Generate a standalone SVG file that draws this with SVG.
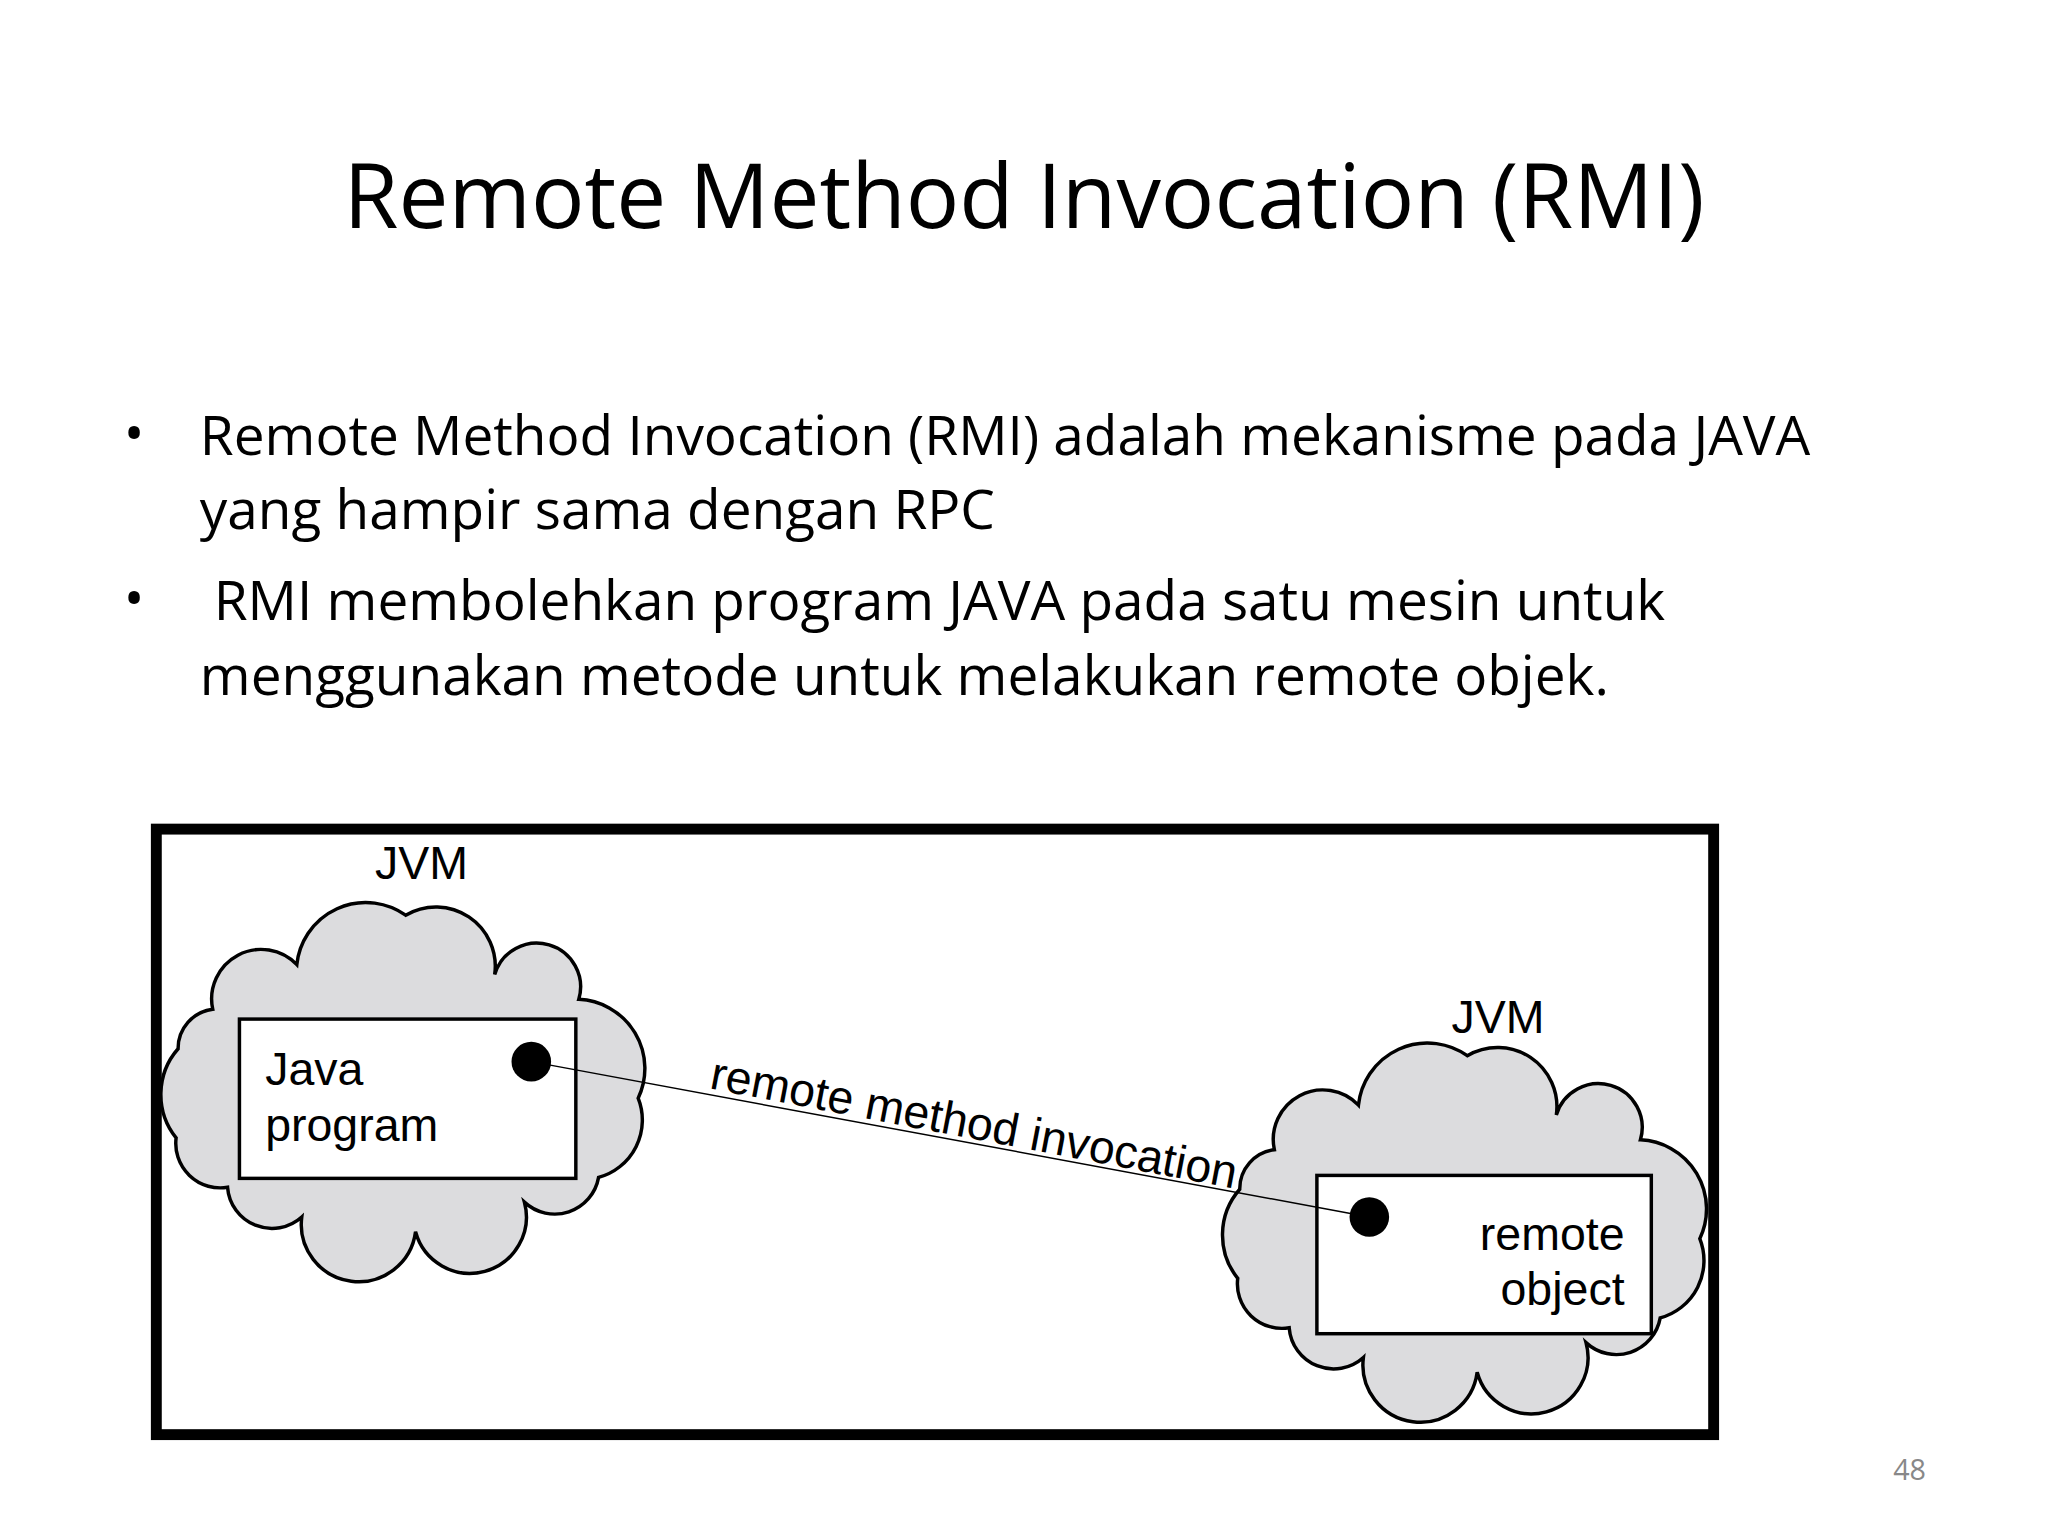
<svg xmlns="http://www.w3.org/2000/svg" width="2048" height="1536" viewBox="0 0 2048 1536">
<style>
.t{font-family:"Open Sans","Noto Sans",sans-serif;fill:#000}
.h{font-family:"Liberation Sans",Arial,sans-serif;fill:#000}
.cloud{fill:#dcdcde;stroke:#000;stroke-width:3.5}
.box{fill:#fff;stroke:#000;stroke-width:3.5}
</style>
<defs>
<path id="cl" d="M215,1020 A50,50 0 0 1 300,975 A70,70 0 0 1 410,925 A60,60 0 0 1 500,985 A40,40 0 0 1 585,1010 A70,70 0 0 1 645,1110 A60,60 0 0 1 605,1190 A45,45 0 0 1 530,1215 A55,55 0 0 1 420,1245 A55,55 0 0 1 305,1230 A45,45 0 0 1 230,1200 A45,45 0 0 1 178,1150 A70,70 0 0 1 180,1060 A40,40 0 0 1 215,1020 Z"/>
</defs>
<rect width="2048" height="1536" fill="#fff"/>
<g transform="scale(0.9894)">
<text class="t" x="1035" y="230" font-size="90" text-anchor="middle">Remote Method Invocation (RMI)</text>
<g class="t" font-size="55.5">
<text x="125" y="458">•</text>
<text x="202" y="460">Remote Method Invocation (RMI) adalah mekanisme pada JAVA</text>
<text x="202" y="535">yang hampir sama dengan RPC</text>
<text x="125" y="625">•</text>
<text x="216" y="627">RMI membolehkan program JAVA pada satu mesin untuk</text>
<text x="202" y="702">menggunakan metode untuk melakukan remote objek.</text>
</g>
<rect x="158" y="838" width="1574" height="612" fill="none" stroke="#000" stroke-width="11"/>
<g id="left">
<text class="h" x="426" y="888" font-size="47" text-anchor="middle">JVM</text>
<use href="#cl" class="cloud"/>
<rect class="box" x="242" y="1030" width="340" height="161"/>
<text class="h" x="268" y="1097" font-size="47">Java</text>
<text class="h" x="268" y="1153" font-size="47">program</text>
<circle cx="537" cy="1073" r="20"/>
</g>
<g id="right">
<text class="h" x="1514" y="1044" font-size="47" text-anchor="middle">JVM</text>
<use href="#cl" class="cloud" transform="translate(1073,142)"/>
<rect class="box" x="1331" y="1188" width="338" height="160"/>
<text class="h" x="1642" y="1263" font-size="47" text-anchor="end">remote</text>
<text class="h" x="1642" y="1319" font-size="47" text-anchor="end">object</text>
<circle cx="1384" cy="1230" r="20"/>
</g>
<g id="connectors">
<line x1="537" y1="1073" x2="1384" y2="1230" stroke="#000" stroke-width="1.5"/>
<text class="h" font-size="47" transform="translate(716,1100) rotate(10.8)">remote method invocation</text>
</g>
<text class="t" x="1930" y="1496" font-size="29" style="fill:#888" text-anchor="middle">48</text>
</g>
</svg>
